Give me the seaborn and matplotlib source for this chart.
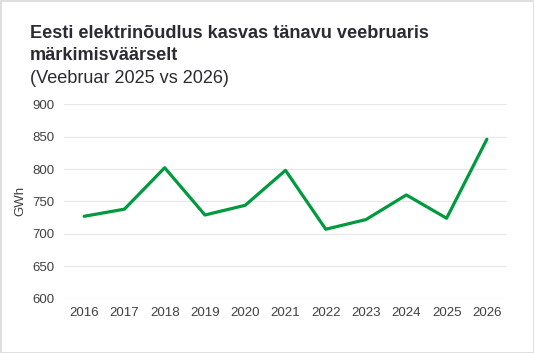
import pandas as pd
import matplotlib.pyplot as plt
import seaborn as sns
from matplotlib.patches import Rectangle

# ------------------ DATOS ------------------
aastad = ["2016", "2017", "2018", "2019", "2020", "2021",
          "2022", "2023", "2024", "2025", "2026"]
nouadlus = [727, 738, 802, 729, 744, 798, 707, 722, 760, 724, 846]
y_ticks = [600, 650, 700, 750, 800, 850, 900]

df = pd.DataFrame({"Aasta": aastad, "GWh": nouadlus})

# ------------------ GRAFICO ------------------
sns.set_theme(style="white")
plt.rcParams["font.family"] = ["Liberation Sans", "DejaVu Sans"]

fig = plt.figure(figsize=(5.34, 3.53), dpi=100)
ax = fig.add_axes([64 / 534, 1 - 298.5 / 353, (507 - 64) / 534, (298.5 - 104.3) / 353])

sns.lineplot(data=df, x="Aasta", y="GWh", ax=ax, color="#009a3e",
             linewidth=2.3, sort=False)

ax.set_ylim(600, 900)
ax.set_xlim(-0.5, len(aastad) - 0.5)
ax.set_yticks(y_ticks)
ax.yaxis.grid(True, color="#e8e8e8", linewidth=0.9)
ax.xaxis.grid(False)
for s in ax.spines.values():
    s.set_visible(False)
ax.tick_params(axis="both", length=0, labelsize=9.5, colors="#404040", pad=6)
ax.tick_params(axis="y", pad=7)
ax.set_xlabel("")
ax.set_ylabel("GWh", fontsize=9.5, color="#404040", labelpad=4)

fig.text(30 / 534, 1 - 38 / 353, "Eesti elektrinõudlus kasvas tänavu veebruaris",
         fontsize=13.1, fontweight="bold", color="#2b2b33", va="baseline")
fig.text(30 / 534, 1 - 60 / 353, "märkimisväärselt",
         fontsize=13.1, fontweight="bold", color="#2b2b33", va="baseline")
fig.text(30 / 534, 1 - 83 / 353, "(Veebruar 2025 vs 2026)",
         fontsize=13.1, color="#2b2b33", va="baseline")

fig.patches.append(Rectangle((0.5 / 534, 0.5 / 353), 533 / 534, 352 / 353,
                             transform=fig.transFigure, fill=False,
                             edgecolor="#d9d9dc", linewidth=1.2))

fig.savefig("out.png", dpi=100)
plt.close()
